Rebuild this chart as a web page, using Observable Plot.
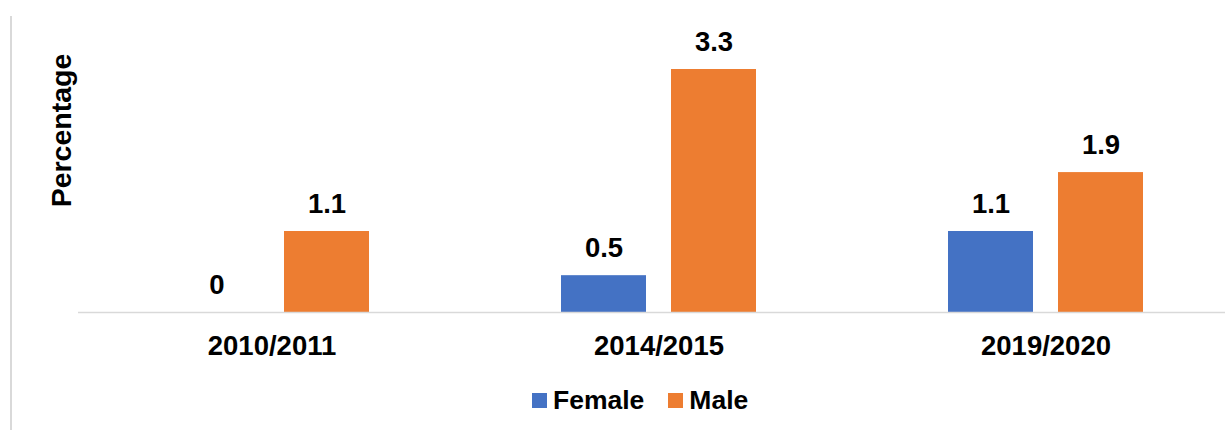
<!DOCTYPE html>
<html>
<head>
<meta charset="utf-8">
<script src="https://cdn.jsdelivr.net/npm/d3@7"></script>
<script src="https://cdn.jsdelivr.net/npm/@observablehq/plot@0.6"></script>
<style>
  html, body { margin: 0; padding: 0; background: #fff; }
  body { width: 1225px; height: 430px; position: relative; overflow: hidden;
         font-family: "Liberation Sans", Arial, sans-serif; }
  #frame { position: absolute; left: 10px; top: 16px; width: 0; height: 414px;
           border-left: 2px solid #d9d9d9; }
  #chart { position: absolute; left: 0; top: 0; }
  #legend { position: absolute; left: 532px; top: 385px; display: flex; align-items: center;
            font-weight: bold; font-size: 26.5px; color: #000; }
  .sw { width: 15px; height: 15px; display: inline-block; margin-right: 6px; }
  .item { display: flex; align-items: center; margin-right: 24px; }
</style>
</head>
<body>
<div id="frame"></div>
<div id="chart"></div>
<div id="legend"></div>
<script>
const years = ["2010/2011", "2014/2015", "2019/2020"];
const series = ["Female", "Male"];
const female = [0, 0.5, 1.1];
const male = [1.1, 3.3, 1.9];
const colors = ["#4472C4", "#ED7D31"];
const yLabel = "Percentage";

const data = [];
years.forEach((yr, i) => {
  data.push({year: yr, sex: "Female", value: female[i]});
  data.push({year: yr, sex: "Male", value: male[i]});
});

const chart = Plot.plot({
  width: 1225,
  height: 370,
  marginLeft: 77,
  marginRight: -15,
  marginTop: 69,
  marginBottom: 58,
  style: {fontFamily: "'Liberation Sans', Arial, sans-serif", fontSize: "27.5px", fontWeight: "bold", color: "#000"},
  fx: {domain: years, padding: 0, label: null, axis: "bottom", tickSize: 0, tickPadding: 23},
  x: {domain: series, axis: null, paddingInner: 0.225, paddingOuter: 0.86},
  y: {domain: [0, 3.3], axis: null},
  color: {domain: series, range: colors},
  marks: [
    Plot.barY(data, {fx: "year", x: "sex", y: "value", fill: "sex"}),
    Plot.ruleY([0], {stroke: "#d9d9d9", strokeWidth: 1.5}),
    Plot.text(data, {fx: "year", x: "sex", y: "value", text: d => String(d.value),
      lineAnchor: "bottom", dy: -19, fill: "#000"}),
    Plot.text([yLabel], {frameAnchor: "top-left", fx: () => years[0], rotate: -90,
      dx: -17, dy: 61, textAnchor: "middle", lineAnchor: "middle", fill: "#000", fontSize: 28.5})
  ]
});
document.getElementById("chart").appendChild(chart);

const legend = document.getElementById("legend");
series.forEach((s, i) => {
  const item = document.createElement("div");
  item.className = "item";
  const sw = document.createElement("span");
  sw.className = "sw";
  sw.style.background = colors[i];
  item.appendChild(sw);
  item.appendChild(document.createTextNode(s));
  legend.appendChild(item);
});
</script>
</body>
</html>
